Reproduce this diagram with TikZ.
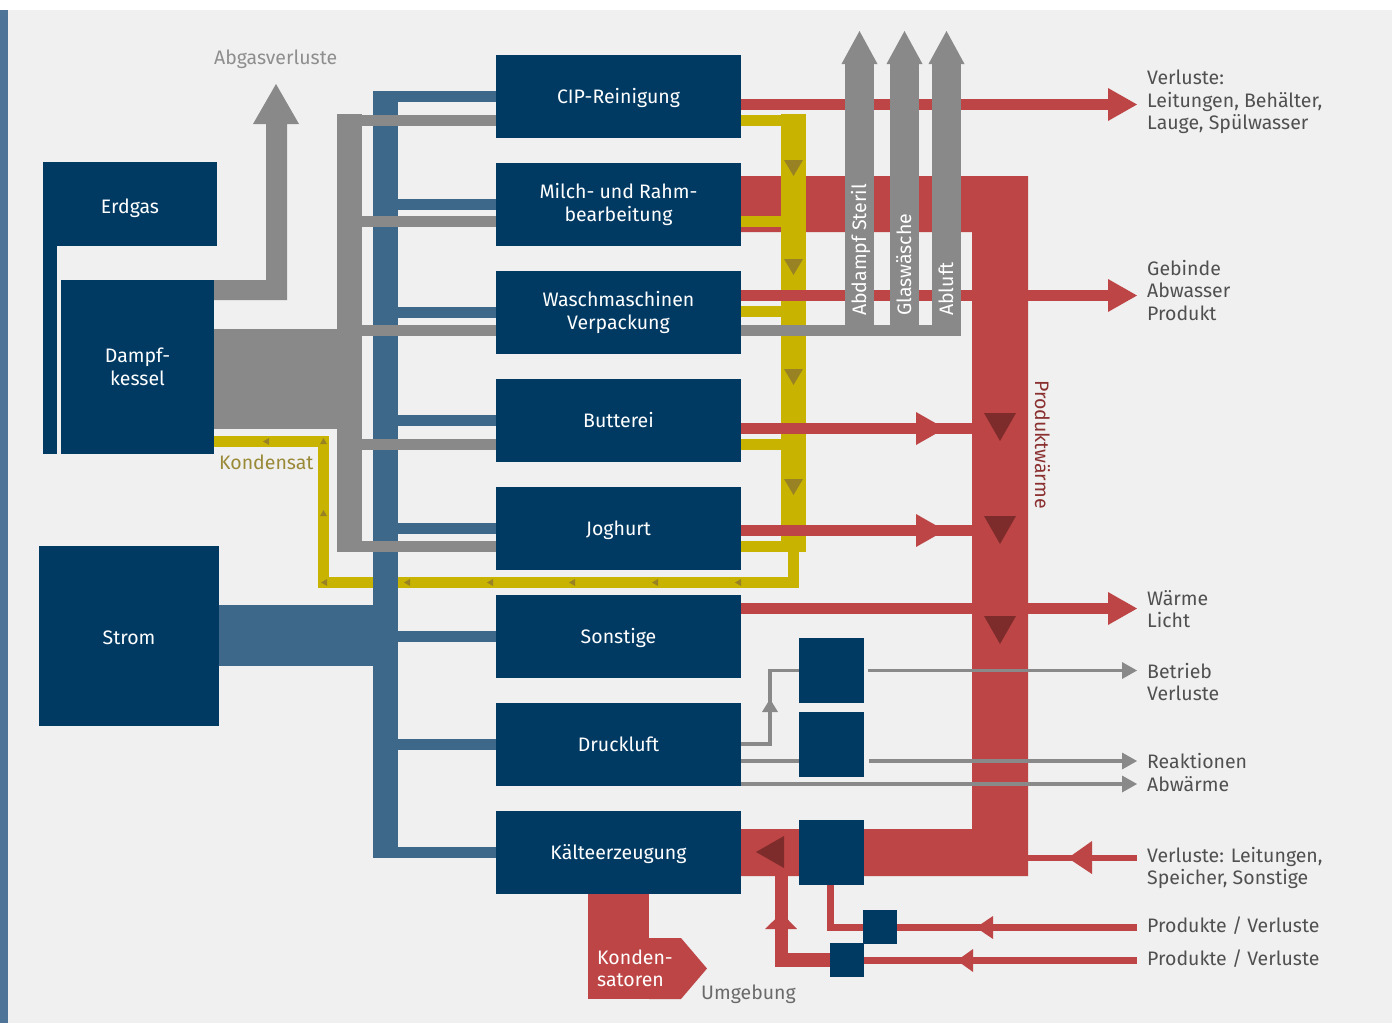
\documentclass[tikz,border=0pt]{standalone}
\usepackage{fontspec}
\setmainfont{Fira Sans}
\definecolor{bgc}{HTML}{F0F0F0}
\definecolor{edgeblue}{HTML}{4E7597}
\definecolor{dkblue}{HTML}{003A63}
\definecolor{mdblue}{HTML}{3D6889}
\definecolor{gry}{HTML}{898989}
\definecolor{rd}{HTML}{BE4545}
\definecolor{dkrd}{HTML}{7E2B2B}
\definecolor{yel}{HTML}{C8B400}
\definecolor{dkyel}{HTML}{988224}
\definecolor{txtgray}{HTML}{505050}
\definecolor{kondtxt}{HTML}{9A8A38}
\definecolor{ptxt}{HTML}{8B3030}
\definecolor{abgtxt}{HTML}{8E8E8E}
\begin{document}
\begin{tikzpicture}[x=1pt,y=-1pt,
  fnt/.style={font=\fontsize{19.5}{22.5}\selectfont},
  box/.style={fill=dkblue, text=white, inner sep=0pt, align=center, fnt},
  onel/.style={text height=13pt, text depth=0pt},
  sq/.style={fill=dkblue, inner sep=0pt},
  lbl/.style={anchor=base west, inner sep=0pt, text=txtgray, fnt},
  gline/.style={draw=gry, line width=3.5pt},
]
\useasboundingbox (0,0) rectangle (1392,1023);
\fill[white] (0,0) rectangle (1392,1023);
\fill[bgc] (0,10) rectangle (1392,1023);
\fill[edgeblue] (0,10) rectangle (8,1023);

% ---- big red band (Produktwaerme)
\fill[rd] (741,176) -- (1028,176) -- (1028,876) -- (741,876) -- (741,829) -- (972,829) -- (972,232) -- (741,232) -- cycle;

% ---- yellow condensate system
\fill[yel] (781,114) rectangle (806,552);
\foreach \a/\b in {115/126,216/227,306/317,439/450,541/552}
  \fill[yel] (741,\a) rectangle (781,\b);
\fill[yel] (788,552) rectangle (799,588);
\fill[yel] (318,577) rectangle (799,588);
\fill[yel] (318,436) rectangle (329,588);
\fill[yel] (214,436) rectangle (329,447);
\foreach \t in {160,259,369,479}
  \fill[dkyel] (784,\t) -- (803,\t) -- (793.5,\t+16) -- cycle;
\foreach \x in {324,407,490,572,655,738}
  \fill[dkyel] (\x-3,582.5) -- (\x+3,579) -- (\x+3,586) -- cycle;
\fill[dkyel] (263,441.5) -- (269,438) -- (269,445) -- cycle;
\foreach \y in {441,513}
  \fill[dkyel] (323.5,\y-3) -- (320,\y+3) -- (327,\y+3) -- cycle;

% ---- thin red outputs
\fill[rd] (741,99) rectangle (1108,110);
\fill[rd] (1108,88) -- (1137,104.5) -- (1108,121) -- cycle;
\fill[rd] (741,290) rectangle (1108,301);
\fill[rd] (1108,279) -- (1137,295.5) -- (1108,312) -- cycle;
\fill[rd] (741,603) rectangle (1108,614);
\fill[rd] (1108,592) -- (1137,608.5) -- (1108,625) -- cycle;
\fill[rd] (741,423) rectangle (972,434);
\fill[rd] (916,412) -- (945,428.5) -- (916,445) -- cycle;
\fill[rd] (741,525) rectangle (972,536);
\fill[rd] (916,514) -- (945,530.5) -- (916,547) -- cycle;
\foreach \t in {413,516,616}
  \fill[dkrd] (984,\t) -- (1016,\t) -- (1000,\t+28) -- cycle;

% ---- exhaust stacks
\fill[gry] (741,325) rectangle (961,336);
\foreach \xa/\xb in {845/874,890/919,932/961}{
  \fill[gry] (\xa,64) rectangle (\xb,336);
  \fill[gry] (\xa-3.5,64) -- ({(\xa+\xb)/2},31) -- (\xb+3.5,64) -- cycle;
}
\node[anchor=base west, inner sep=0pt, rotate=90, text=white, fnt] (t1) at (866,316) {Abdampf Steril};
\node[anchor=base west, inner sep=0pt, rotate=90, text=white, fnt] (t2) at (911,316) {Glaswäsche};
\node[anchor=base west, inner sep=0pt, rotate=90, text=white, fnt] (t3) at (953,316) {Abluft};

% ---- electricity (blue)
\fill[mdblue] (373,91) rectangle (398,858);
\foreach \t in {55,163,271,379,487,595,703,811}
  \fill[mdblue] (398,\t+36) rectangle (496,\t+47);
\fill[mdblue] (219,605) rectangle (373,666);

% ---- steam (gray)
\fill[gry] (214,280) -- (266,280) -- (266,124) -- (253,124) -- (276,84) -- (299,124) -- (287,124) -- (287,300) -- (214,300) -- cycle;
\fill[gry] (214,329) rectangle (337,429);
\fill[gry] (337,114) rectangle (362,552);
\foreach \a/\b in {115/126,216/227,325/336,439/450,541/552}
  \fill[gry] (362,\a) rectangle (497,\b);

% ---- source boxes
\node[box, onel, minimum width=174pt, minimum height=84pt] (erdgas) at (130,204) {\raisebox{-3pt}{Erdgas}};
\fill[dkblue] (43,246) rectangle (57,454);
\node[box, minimum width=153pt, minimum height=174pt] (dampf) at (137.5,367) {Dampf-\\kessel};
\node[box, onel, minimum width=180pt, minimum height=180pt] (strom) at (129,636) {\raisebox{-2pt}{Strom}};

% ---- process boxes
\node[box, onel, minimum width=245pt, minimum height=83pt] (cip) at (618.5,96.5) {CIP-Reinigung};
\node[box, minimum width=245pt, minimum height=83pt] (milch) at (618.5,204.5) {Milch- und Rahm-\\bearbeitung};
\node[box, minimum width=245pt, minimum height=83pt] (wasch) at (618.5,312.5) {Waschmaschinen\\Verpackung};
\node[box, onel, minimum width=245pt, minimum height=83pt] (butter) at (618.5,420.5) {Butterei};
\node[box, onel, minimum width=245pt, minimum height=83pt] (jog) at (618.5,528.5) {Joghurt};
\node[box, onel, minimum width=245pt, minimum height=83pt] (sonst) at (618.5,636.5) {Sonstige};
\node[box, onel, minimum width=245pt, minimum height=83pt] (druck) at (618.5,744.5) {Druckluft};
\node[box, onel, minimum width=245pt, minimum height=83pt] (kaelte) at (618.5,852.5) {Kälteerzeugung};

% ---- Kondensatoren
\fill[rd] (588,894) rectangle (649,999);
\fill[rd] (649,938) -- (681,938) -- (707,968.5) -- (681,999) -- (649,999) -- cycle;
\node[anchor=base west, inner sep=0pt, text=white, fnt] (kond1) at (597,964) {Konden-};
\node[anchor=base west, inner sep=0pt, text=white, fnt] (kond2) at (597,986) {satoren};
\node[anchor=base west, inner sep=0pt, text=txtgray!85, fnt] (umg) at (701,999) {Umgebung};

% ---- cold side red
\fill[dkrd] (756,852) -- (784,836) -- (784,868) -- cycle;
\fill[rd] (1028,854.5) rectangle (1137,861);
\fill[rd] (1068,858) -- (1092,841) -- (1092,874) -- cycle;
\fill[rd] (897,924) rectangle (1137,931);
\fill[rd] (976,927.5) -- (993,916) -- (993,939) -- cycle;
\fill[rd] (827,924) rectangle (863,931);
\fill[rd] (827,885) rectangle (834,931);
\fill[rd] (864,957) rectangle (1137,964);
\fill[rd] (957,960.5) -- (973,949) -- (973,972) -- cycle;
\fill[rd] (775,953) rectangle (830,967);
\fill[rd] (775,875) rectangle (788,967);
\fill[rd] (765,929) -- (781.5,913) -- (797,929) -- cycle;

% ---- small boxes
\node[sq, minimum size=65pt] (b1) at (831.5,670.5) {};
\node[sq, minimum size=65pt] (b2) at (831.5,744.5) {};
\node[sq, minimum size=65pt] (kb) at (831.5,852.5) {};
\node[sq, minimum size=34pt] (s1) at (880,927) {};
\node[sq, minimum size=34pt] (s2) at (847,960) {};

% ---- gray thin lines (Druckluft)
\draw[gline] (druck.east |- 0,744) -| (770,670.5) -- (b1.west);
\fill[gry] (762,712) -- (770,699) -- (778,712) -- cycle;
\draw[gline] (868,670.5) -- (1122,670.5);
\fill[gry] (1122,662) -- (1137,670.5) -- (1122,679) -- cycle;
\draw[gline] (druck.east |- 0,761) -- (b2.west |- 0,761);
\draw[gline] (869,761) -- (1122,761);
\fill[gry] (1122,752.5) -- (1137,761) -- (1122,769.5) -- cycle;
\draw[gline] (druck.east |- 0,784) -- (1122,784);
\fill[gry] (1122,775.5) -- (1137,784) -- (1122,792.5) -- cycle;

% ---- labels
\node[anchor=base west, inner sep=0pt, text=abgtxt, fnt] (abg) at (214,64) {Abgasverluste};
\node[anchor=base west, inner sep=0pt, text=kondtxt, fnt] (kondl) at (219,469) {Kondensat};
\node[anchor=base west, inner sep=0pt, rotate=-90, text=ptxt, fnt] (pw) at (1035,380) {Produktwärme};

\node[lbl] (r1) at (1147,84) {Verluste:};
\node[lbl] (r2) at (1147,107) {Leitungen, Behälter,};
\node[lbl] (r3) at (1147,129) {Lauge, Spülwasser};
\node[lbl] (r4) at (1147,275) {Gebinde};
\node[lbl] (r5) at (1147,297) {Abwasser};
\node[lbl] (r6) at (1147,320) {Produkt};
\node[lbl] (r7) at (1147,605) {Wärme};
\node[lbl] (r8) at (1147,627) {Licht};
\node[lbl] (r9) at (1147,678) {Betrieb};
\node[lbl] (r10) at (1147,700) {Verluste};
\node[lbl] (r11) at (1147,768) {Reaktionen};
\node[lbl] (r12) at (1147,791) {Abwärme};
\node[lbl] (r13) at (1147,862) {Verluste: Leitungen,};
\node[lbl] (r14) at (1147,884) {Speicher, Sonstige};
\node[lbl] (r15) at (1147,932) {Produkte / Verluste};
\node[lbl] (r16) at (1147,965) {Produkte / Verluste};
\end{tikzpicture}
\end{document}
